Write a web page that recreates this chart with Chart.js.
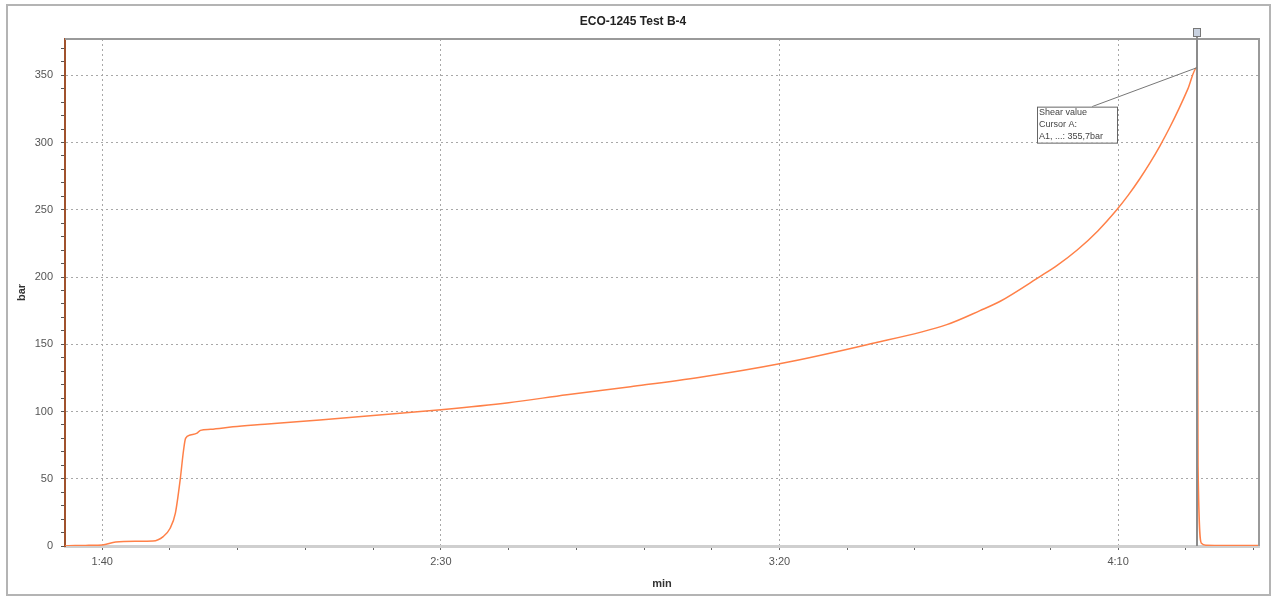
<!DOCTYPE html>
<html>
<head>
<meta charset="utf-8">
<title>ECO-1245 Test B-4</title>
<script src="https://cdn.jsdelivr.net/npm/chart.js@4.4.1/dist/chart.umd.min.js"></script>
<style>
  html, body { margin: 0; padding: 0; background: #fff; }
  #wrap { width: 1276px; height: 598px; }
</style>
</head>
<body>
<div id="wrap"><canvas id="chart" width="1276" height="598"></canvas></div>
<script>
// time in seconds, pressure in bar
const times = [94.5, 96, 98, 100, 102, 105, 107.5, 109, 110, 110.8, 111.5, 112, 112.3, 113, 114, 114.5,
  116, 119.3, 124, 129.2, 140, 150, 160, 168.6, 178, 188.3, 200, 212.9, 224.7, 229.6, 232.6, 238.5,
  241, 244, 247, 249.8, 251.5, 253.2, 254.7, 256.2, 257.6, 259, 260.3, 261.6,
  261.8, 262.3, 263, 266, 270.8];
const values = [0, 0.3, 0.5, 0.8, 3, 3.5, 3.7, 7, 13, 24.5, 49, 71, 80, 82.5, 84, 86,
  86.8, 88.6, 90.5, 92.6, 97, 101.3, 106.5, 112.5, 118.5, 125.5, 135.5, 149.7, 164.6, 175, 182, 200.5,
  208.7, 220.3, 234.3, 250, 260.9, 273.1, 284.9, 297.8, 311, 325.4, 339.9, 355.7,
  60, 2, 0.6, 0.4, 0.4];

const xRange = [94.5, 270.8];
const yRange = [0, 377];
const majorStepX = 50;
const majorStepY = 50;

const cursorTime = 261.7;
const cursorValue = 355.7;
const cursorLines = ['Shear value', 'Cursor A:', 'A1, ...: 355,7bar'];

function fmtTime(sec) {
  const m = Math.floor(sec / 60);
  const s = Math.round(sec - m * 60);
  return m + ':' + String(s).padStart(2, '0');
}

const framePlugin = {
  id: 'frame',
  beforeDraw(chart) {
    const { ctx } = chart;
    ctx.save();
    ctx.fillStyle = '#fff';
    ctx.fillRect(0, 0, chart.width, chart.height);
    ctx.strokeStyle = '#b4b4b4';
    ctx.lineWidth = 2;
    ctx.strokeRect(7, 5, chart.width - 13, chart.height - 8);
    ctx.restore();
  },
  afterDraw(chart) {
    const { ctx, chartArea: a, scales } = chart;
    ctx.save();
    // plot box top + right
    ctx.strokeStyle = '#9a9a9a';
    ctx.lineWidth = 2;
    ctx.beginPath();
    ctx.moveTo(a.left, a.top);
    ctx.lineTo(a.right, a.top);
    ctx.lineTo(a.right, a.bottom);
    ctx.stroke();

    // cursor
    const cx = Math.round(scales.x.getPixelForValue(cursorTime));
    const cy = scales.y.getPixelForValue(cursorValue);
    ctx.strokeStyle = '#8c8c8c';
    ctx.lineWidth = 2;
    ctx.beginPath();
    ctx.moveTo(cx, a.top - 8);
    ctx.lineTo(cx, a.bottom);
    ctx.stroke();
    ctx.fillStyle = '#c9d2e0';
    ctx.fillRect(cx - 3, a.top - 10, 7, 8);
    ctx.strokeStyle = '#777';
    ctx.lineWidth = 1;
    ctx.strokeRect(cx - 3.5, a.top - 10.5, 7, 8);

    // annotation
    const bx = cx - 160, by = cy + 39, bw = 80, bh = 36;
    ctx.strokeStyle = '#777';
    ctx.beginPath();
    ctx.moveTo(bx + 55, by);
    ctx.lineTo(cx, cy);
    ctx.stroke();
    ctx.fillStyle = '#fff';
    ctx.fillRect(bx, by, bw, bh);
    ctx.strokeStyle = '#666';
    ctx.strokeRect(bx + 0.5, by + 0.5, bw, bh);
    ctx.fillStyle = '#444';
    ctx.font = '9px "Liberation Sans", Arial, sans-serif';
    ctx.textBaseline = 'middle';
    cursorLines.forEach((t, i) => ctx.fillText(t, bx + 2, by + 6 + i * 12));
    ctx.restore();
  }
};

const ctx = document.getElementById('chart');
new Chart(ctx, {
  type: 'line',
  data: {
    datasets: [{
      data: times.map((t, i) => ({ x: t, y: values[i] })),
      borderColor: '#ff8048',
      borderWidth: 1.5,
      pointRadius: 0,
      cubicInterpolationMode: 'monotone',
      fill: false,
    }],
  },
  options: {
    responsive: false,
    animation: false,
    layout: { padding: { left: 7, right: 17, top: 5, bottom: 2 } },
    plugins: {
      legend: { display: false },
      tooltip: { enabled: false },
      title: {
        display: true,
        text: 'ECO-1245 Test B-4',
        color: '#222',
        font: { family: '"Liberation Sans", Arial, sans-serif', size: 12, weight: 'bold' },
        padding: { top: 9, bottom: 10.6 },
      },
    },
    scales: {
      x: {
        type: 'linear',
        min: xRange[0],
        max: xRange[1],
        afterFit: (s) => { s.height = 50; },
        ticks: {
          stepSize: 10,
          includeBounds: false,
          autoSkip: false,
          maxRotation: 0,
          padding: 5,
          color: '#555',
          font: { family: '"Liberation Sans", Arial, sans-serif', size: 11 },
          callback: (v) => (v % majorStepX === 0 ? fmtTime(v) : ''),
        },
        grid: {
          color: (c) => (c.tick && c.tick.value % majorStepX === 0 ? '#a8a8a8' : 'rgba(0,0,0,0)'),
          tickColor: '#666',
          tickLength: 4,
          lineWidth: 1,
        },
        border: { color: '#cfcfcf', width: 3, dash: [2, 3] },
        title: {
          display: true,
          text: 'min',
          color: '#333',
          font: { family: '"Liberation Sans", Arial, sans-serif', size: 11, weight: 'bold' },
          padding: { top: 2, bottom: 5 },
        },
      },
      y: {
        min: yRange[0],
        max: yRange[1],
        afterFit: (s) => { s.width = 58; },
        ticks: {
          stepSize: 10,
          includeBounds: false,
          autoSkip: false,
          padding: 8,
          color: '#555',
          font: { family: '"Liberation Sans", Arial, sans-serif', size: 11 },
          callback: (v) => (v % majorStepY === 0 ? String(v) : ''),
        },
        grid: {
          color: (c) => (c.tick && c.tick.value % majorStepY === 0 && c.tick.value !== 0 ? '#a8a8a8' : 'rgba(0,0,0,0)'),
          tickColor: '#555',
          tickLength: 4,
          lineWidth: 1,
        },
        border: { color: '#a0522d', width: 2, dash: [2, 3] },
        title: {
          display: true,
          text: 'bar',
          color: '#333',
          font: { family: '"Liberation Sans", Arial, sans-serif', size: 11, weight: 'bold' },
          padding: { top: 8, bottom: 2 },
        },
      },
    },
  },
  plugins: [framePlugin],
});
</script>
</body>
</html>
